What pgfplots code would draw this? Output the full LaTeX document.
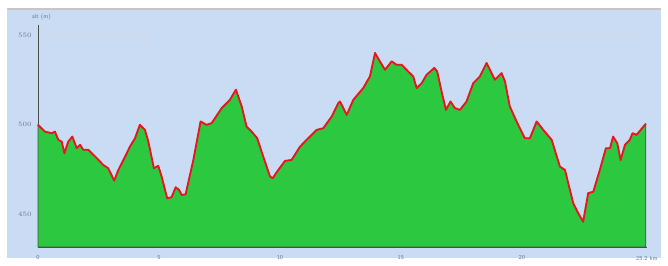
\documentclass[border=0pt]{standalone}
\usepackage{pgfplots}
\pgfplotsset{compat=1.18}
\definecolor{panel}{HTML}{C9DCF3}
\definecolor{fillg}{HTML}{2CC840}
\definecolor{liner}{HTML}{E8161E}
\definecolor{ticktxt}{HTML}{6A7896}
\begin{document}
\begin{tikzpicture}[x=0.75pt,y=0.75pt]
\useasboundingbox (0,0) rectangle (668,266);
\fill[white] (0,0) rectangle (668,266);
\fill[panel] (7,8) rectangle (661,257);
\draw[gray!45,line width=0.9pt] (7,257) -- (661,257);
\draw[gray!30,line width=0.6pt] (7,8) -- (7,257);
\begin{axis}[
  at={(38*0.75pt,19*0.75pt)}, anchor=origin,
  scale only axis, width=609*0.75pt, height=222*0.75pt,
  xmin=0, xmax=25.17, ymin=431.5, ymax=556,
  axis x line=bottom, axis y line=left,
  axis line style={-, draw=black!70, line width=0.6pt},
  xtick={0,5,10,15,20,25.17}, xticklabels={0,5,10,15,20,25.2 km},
  ytick={450,500,550},
  tick style={draw=none},
  tick label style={font=\sffamily\fontsize{4.5}{5}\selectfont, text=ticktxt},
  xticklabel style={yshift=-1pt},
  yticklabel style={xshift=1pt},
  axis background/.style={fill=panel},
  clip=false,
]
\draw[black!15, line width=0.5pt] (axis cs:0.25,550) -- (axis cs:4.7,550);
\draw[black!15, line width=0.5pt] (axis cs:18.7,550) -- (axis cs:24.9,550);
\node[font=\sffamily\fontsize{4.5}{5}\selectfont, text=ticktxt, anchor=south west] at (axis cs:-0.45,556) {alt (m)};
\addplot[fill=fillg, draw=black!70, line width=0.5pt] coordinates {
(0,500)(0.29,496.2)(0.57,495.3)(0.70,496.2)(0.84,491.6)(0.98,490.6)(1.09,484.1)(1.25,490.6)(1.42,493.4)(1.60,486.9)(1.74,488.8)(1.87,486.0)(2.08,486.0)(2.43,481.3)(2.70,477.5)(2.90,475.7)(3.15,468.7)(3.32,474.7)(3.60,482.2)(3.80,487.8)(4.01,492.5)(4.21,500.0)(4.42,497.2)(4.56,490.6)(4.79,475.7)(4.97,477.0)(5.11,471.0)(5.34,458.8)(5.52,459.4)(5.69,465.0)(5.83,463.5)(5.94,460.7)(6.10,461.0)(6.42,480.3)(6.72,501.9)(6.97,500.0)(7.18,501.0)(7.59,509.4)(7.93,514.0)(8.18,519.7)(8.42,510.3)(8.62,499.0)(8.83,496.2)(9.06,492.5)(9.31,482.2)(9.59,471.0)(9.70,470.1)(9.93,474.7)(10.21,479.8)(10.48,480.3)(10.83,487.8)(11.10,491.6)(11.52,497.2)(11.79,498.1)(12.14,504.7)(12.41,512.2)(12.48,513.1)(12.76,505.6)(13.03,514.0)(13.44,520.6)(13.72,527.2)(13.93,540.3)(14.13,535.6)(14.34,530.9)(14.62,535.6)(14.82,533.7)(15.03,533.7)(15.30,529.9)(15.51,527.1)(15.65,520.6)(15.86,523.4)(16.06,528.1)(16.38,531.9)(16.50,529.9)(16.68,518.7)(16.86,508.4)(17.05,513.1)(17.23,509.4)(17.44,508.4)(17.71,513.1)(17.99,523.4)(18.26,527.1)(18.54,534.7)(18.88,525.3)(19.16,529.0)(19.30,524.3)(19.50,510.3)(19.78,501.9)(20.12,492.5)(20.33,492.5)(20.61,501.9)(20.88,497.2)(21.23,491.6)(21.57,476.6)(21.78,474.7)(22.12,456.1)(22.33,450.4)(22.53,445.7)(22.74,461.7)(22.95,462.5)(23.22,474.7)(23.47,486.9)(23.64,486.9)(23.77,493.4)(23.94,489.7)(24.08,480.3)(24.26,488.8)(24.46,491.6)(24.57,495.3)(24.74,494.4)(25.12,500.6)
} \closedcycle;
\addplot[liner, line width=1.4pt, line join=round] coordinates {
(0,500)(0.29,496.2)(0.57,495.3)(0.70,496.2)(0.84,491.6)(0.98,490.6)(1.09,484.1)(1.25,490.6)(1.42,493.4)(1.60,486.9)(1.74,488.8)(1.87,486.0)(2.08,486.0)(2.43,481.3)(2.70,477.5)(2.90,475.7)(3.15,468.7)(3.32,474.7)(3.60,482.2)(3.80,487.8)(4.01,492.5)(4.21,500.0)(4.42,497.2)(4.56,490.6)(4.79,475.7)(4.97,477.0)(5.11,471.0)(5.34,458.8)(5.52,459.4)(5.69,465.0)(5.83,463.5)(5.94,460.7)(6.10,461.0)(6.42,480.3)(6.72,501.9)(6.97,500.0)(7.18,501.0)(7.59,509.4)(7.93,514.0)(8.18,519.7)(8.42,510.3)(8.62,499.0)(8.83,496.2)(9.06,492.5)(9.31,482.2)(9.59,471.0)(9.70,470.1)(9.93,474.7)(10.21,479.8)(10.48,480.3)(10.83,487.8)(11.10,491.6)(11.52,497.2)(11.79,498.1)(12.14,504.7)(12.41,512.2)(12.48,513.1)(12.76,505.6)(13.03,514.0)(13.44,520.6)(13.72,527.2)(13.93,540.3)(14.13,535.6)(14.34,530.9)(14.62,535.6)(14.82,533.7)(15.03,533.7)(15.30,529.9)(15.51,527.1)(15.65,520.6)(15.86,523.4)(16.06,528.1)(16.38,531.9)(16.50,529.9)(16.68,518.7)(16.86,508.4)(17.05,513.1)(17.23,509.4)(17.44,508.4)(17.71,513.1)(17.99,523.4)(18.26,527.1)(18.54,534.7)(18.88,525.3)(19.16,529.0)(19.30,524.3)(19.50,510.3)(19.78,501.9)(20.12,492.5)(20.33,492.5)(20.61,501.9)(20.88,497.2)(21.23,491.6)(21.57,476.6)(21.78,474.7)(22.12,456.1)(22.33,450.4)(22.53,445.7)(22.74,461.7)(22.95,462.5)(23.22,474.7)(23.47,486.9)(23.64,486.9)(23.77,493.4)(23.94,489.7)(24.08,480.3)(24.26,488.8)(24.46,491.6)(24.57,495.3)(24.74,494.4)(25.12,500.6)
};
\end{axis}
\end{tikzpicture}
\end{document}
